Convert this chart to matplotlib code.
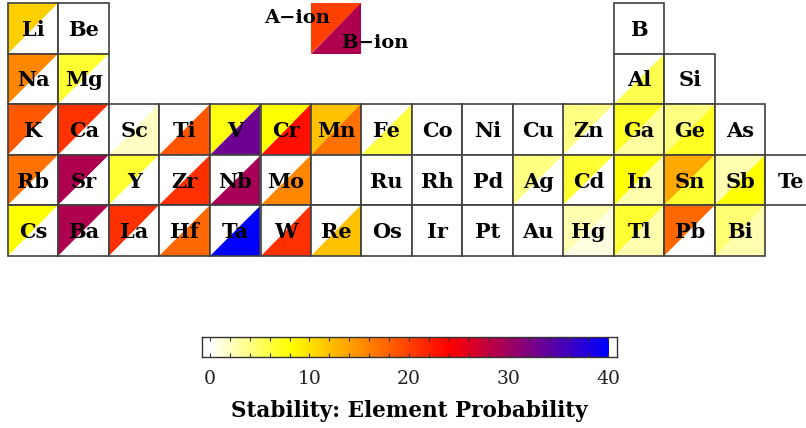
import numpy as np
import matplotlib
matplotlib.use("Agg")
import matplotlib.pyplot as plt
from matplotlib.colors import LinearSegmentedColormap, Normalize
from matplotlib.patches import Polygon, Rectangle

plt.rcParams['font.family'] = ['DejaVu Serif']

# =============================================================================
# Data: element, group column, row, A-ion and B-ion probability
# =============================================================================
elements = ['Li', 'Be', 'B',
            'Na', 'Mg', 'Al', 'Si',
            'K', 'Ca', 'Sc', 'Ti', 'V', 'Cr', 'Mn', 'Fe', 'Co', 'Ni', 'Cu', 'Zn', 'Ga', 'Ge', 'As',
            'Rb', 'Sr', 'Y', 'Zr', 'Nb', 'Mo', '', 'Ru', 'Rh', 'Pd', 'Ag', 'Cd', 'In', 'Sn', 'Sb', 'Te',
            'Cs', 'Ba', 'La', 'Hf', 'Ta', 'W', 'Re', 'Os', 'Ir', 'Pt', 'Au', 'Hg', 'Tl', 'Pb', 'Bi']
cols = [1, 2, 13,
        1, 2, 13, 14,
        1, 2, 3, 4, 5, 6, 7, 8, 9, 10, 11, 12, 13, 14, 15,
        1, 2, 3, 4, 5, 6, 7, 8, 9, 10, 11, 12, 13, 14, 15, 16,
        1, 2, 3, 4, 5, 6, 7, 8, 9, 10, 11, 12, 13, 14, 15]
rows = [1, 1, 1,
        2, 2, 2, 2,
        3, 3, 3, 3, 3, 3, 3, 3, 3, 3, 3, 3, 3, 3, 3,
        4, 4, 4, 4, 4, 4, 4, 4, 4, 4, 4, 4, 4, 4, 4, 4,
        5, 5, 5, 5, 5, 5, 5, 5, 5, 5, 5, 5, 5, 5, 5]
a_ion = [11, 0, 0,
         15.5, 6.5, 0, 0,
         18.5, 20.8, 0, 0, 7.5, 8, 12, 0, 0, 0, 0, 4, 7, 4, 0,
         17, 29, 6.5, 0, 0, 0, 0, 0, 0, 0, 4, 6.5, 8, 13.5, 2.5, 0,
         8, 29, 21, 0, 0, 0, 0, 0, 0, 0, 0, 2.5, 6.5, 17.5, 4.5]
b_ion = [0, 0, 0,
         0, 0, 5.5, 0,
         0, 0, 2, 18.7, 33, 23, 17, 6, 0, 0, 0, 0, 3, 7, 0,
         0, 0, 0, 21, 29.5, 15.5, 0, 0, 0, 0, 0, 0, 2.5, 6.5, 8, 0,
         0, 0, 0, 17.5, 40, 21, 12, 0, 0, 0, 0, 1, 2.5, 0, 2.5]

legend_a = 20
legend_b = 29
vmin, vmax = 0, 40
cbar_ticks = [0, 10, 20, 30, 40]

# =============================================================================
# Colormap
# =============================================================================
cmap = LinearSegmentedColormap.from_list(
    'stab', [(0.0, '#ffffff'), (0.2, '#ffff00'), (0.4, '#ff8000'),
             (0.6, '#ff0000'), (0.8, '#800080'), (1.0, '#0000ff')])
norm = Normalize(vmin, vmax)

# =============================================================================
# Plot
# =============================================================================
fig = plt.figure(figsize=(8.06, 4.28), dpi=100)
cw, ch = 50.5, 50.6  # cell size in pixels
ax = fig.add_axes([0, 0, 1, 1])
ax.set_xlim(-8 / cw, (806 - 8) / cw)
ax.set_ylim((428 - 3) / ch, -3 / ch)
ax.axis('off')


def draw_cell(c, r, va, vb, label):
    x0, y0 = c - 1, r - 1
    ax.add_patch(Polygon([(x0, y0), (x0 + 1, y0), (x0, y0 + 1)], closed=True,
                         facecolor=cmap(norm(va)), edgecolor='none'))
    ax.add_patch(Polygon([(x0 + 1, y0), (x0 + 1, y0 + 1), (x0, y0 + 1)], closed=True,
                         facecolor=cmap(norm(vb)), edgecolor='none'))
    ax.add_patch(Rectangle((x0, y0), 1, 1, facecolor='none', edgecolor='#404040', lw=1.2))
    if label:
        ax.text(x0 + 0.5, y0 + 0.53, label, ha='center', va='center',
                fontsize=15, fontweight='bold', color='black')


for el, c, r, va, vb in zip(elements, cols, rows, a_ion, b_ion):
    draw_cell(c, r, va, vb, el)

# legend square
lx, ly = 6, 0
ax.add_patch(Polygon([(lx, ly), (lx + 1, ly), (lx, ly + 1)], closed=True,
                     facecolor=cmap(norm(legend_a)), edgecolor='none'))
ax.add_patch(Polygon([(lx + 1, ly), (lx + 1, ly + 1), (lx, ly + 1)], closed=True,
                     facecolor=cmap(norm(legend_b)), edgecolor='none'))
ax.text(lx - 0.28, ly + 0.3, 'A\u2212ion', ha='center', va='center',
        fontsize=14, fontweight='bold')
ax.text(lx + 1.27, ly + 0.8, 'B\u2212ion', ha='center', va='center',
        fontsize=14, fontweight='bold')

# colorbar
cax = fig.add_axes([202 / 806, 1 - 357 / 428, 415 / 806, 20 / 428])
grad = np.linspace(vmin, vmax, 400).reshape(1, -1)
cax.imshow(grad, cmap=cmap, norm=norm, aspect='auto', extent=(vmin, vmax, 0, 1))
cax.set_xlim(-0.8, 40.9)
cax.set_ylim(0, 1)
cax.set_yticks([])
cax.set_xticks(cbar_ticks)
cax.set_xticks(np.arange(0, 41, 2), minor=True)
cax.tick_params(axis='x', which='both', direction='in', top=True, bottom=True,
                length=3, width=0.8, color='#333333')
cax.tick_params(axis='x', which='major', labelsize=13.5, labelcolor='#222222', pad=9)
for s in cax.spines.values():
    s.set_color('#333333')
    s.set_linewidth(1.0)
cax.set_xlabel('Stability: Element Probability', fontsize=15.5, fontweight='bold', labelpad=9)

fig.savefig('out.png', dpi=100)
